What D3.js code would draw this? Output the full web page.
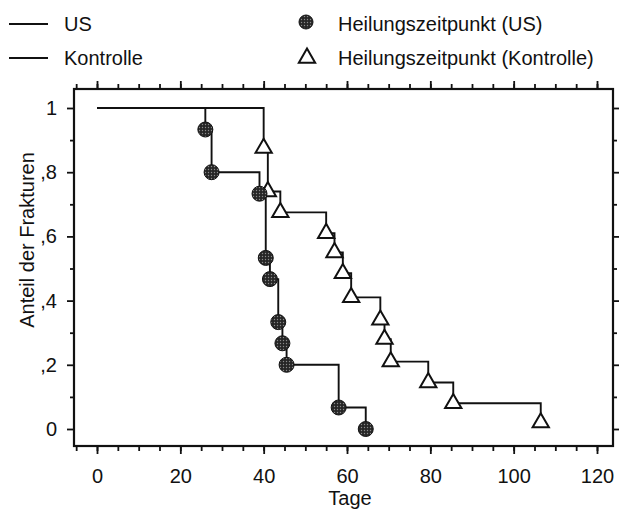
<!DOCTYPE html>
<html lang="de">
  <head>
    <meta charset="UTF-8" />
    <title>Heilungszeitpunkt US vs. Kontrolle</title>
    <script src="https://d3js.org/d3.v7.min.js"></script>
    <style>
      body {
        margin: 0;
        background-color: #fff;
        font-family: "Liberation Sans", Arial, sans-serif;
      }
      svg {
        display: block;
      }
      .step-line {
        fill: none;
        stroke: #111;
        stroke-width: 1.9px;
      }
      .axis text {
        font-family: "Liberation Sans", Arial, sans-serif;
        font-size: 20px;
        fill: #111;
      }
      .axis line {
        stroke: #111;
        stroke-width: 1.8px;
      }
      .label {
        font-size: 20px;
        fill: #111;
      }
    </style>
  </head>
  <body>
    <svg id="chart"></svg>

    <script>
      const width = 619;
      const height = 511;

      // Heilungszeitpunkte (Tage) und Anteil der noch nicht geheilten Frakturen
      const usDays = [26, 27.5, 39, 40.5, 41.5, 43.5, 44.5, 45.5, 58, 64.5];
      const usShare = [0.933, 0.8, 0.733, 0.533, 0.467, 0.333, 0.267, 0.2, 0.067, 0.0];

      const kontrolleDays = [40, 41, 44, 55, 57, 59, 61, 68, 69, 70.5, 79.5, 85.5, 106.5];
      const kontrolleShare = [0.875, 0.74, 0.675, 0.61, 0.55, 0.485, 0.41, 0.34, 0.28, 0.21, 0.145, 0.08, 0.02];

      const xMajorTicks = [0, 20, 40, 60, 80, 100, 120];
      const xMinorTicks = d3.range(-5, 125, 5);
      const yMajorTicks = [0, 0.2, 0.4, 0.6, 0.8, 1];
      const yTickLabels = ["0", ",2", ",4", ",6", ",8", "1"];
      const yMinorTicks = [0.1, 0.3, 0.5, 0.7, 0.9];

      const legendLines = ["US", "Kontrolle"];
      const legendMarkers = ["Heilungszeitpunkt (US)", "Heilungszeitpunkt (Kontrolle)"];

      // plot box
      const box = { left: 74, right: 613, top: 89, bottom: 446 };

      const xScale = d3.scaleLinear().domain([0, 120]).range([97, 597]);
      const yScale = d3.scaleLinear().domain([0, 1]).range([429, 108]);

      const svg = d3.select("#chart").attr("width", width).attr("height", height);

      // stipple pattern for the filled circles
      const defs = svg.append("defs");
      const pat = defs
        .append("pattern")
        .attr("id", "stipple")
        .attr("width", 3)
        .attr("height", 3)
        .attr("patternUnits", "userSpaceOnUse");
      pat.append("rect").attr("width", 3).attr("height", 3).attr("fill", "#262626");
      pat.append("circle").attr("cx", 1.5).attr("cy", 1.5).attr("r", 0.7).attr("fill", "#8a8a8a");

      // frame
      svg
        .append("rect")
        .attr("x", box.left)
        .attr("y", box.top)
        .attr("width", box.right - box.left)
        .attr("height", box.bottom - box.top)
        .attr("fill", "none")
        .attr("stroke", "#111")
        .attr("stroke-width", 2.2);

      const noDomain = (g) => g.select(".domain").remove();

      // bottom axis
      svg
        .append("g")
        .attr("class", "axis")
        .attr("transform", `translate(0,${box.bottom})`)
        .call(d3.axisBottom(xScale).tickValues(xMinorTicks).tickSize(5).tickFormat(""))
        .call(noDomain);
      svg
        .append("g")
        .attr("class", "axis")
        .attr("transform", `translate(0,${box.bottom})`)
        .call(d3.axisBottom(xScale).tickValues(xMajorTicks).tickSize(8).tickPadding(15))
        .call(noDomain);

      // top axis (ticks only)
      svg
        .append("g")
        .attr("class", "axis")
        .attr("transform", `translate(0,${box.top})`)
        .call(d3.axisTop(xScale).tickValues(xMinorTicks).tickSize(5).tickFormat(""))
        .call(noDomain);
      svg
        .append("g")
        .attr("class", "axis")
        .attr("transform", `translate(0,${box.top})`)
        .call(d3.axisTop(xScale).tickValues(xMajorTicks).tickSize(8).tickFormat(""))
        .call(noDomain);

      // left axis
      svg
        .append("g")
        .attr("class", "axis")
        .attr("transform", `translate(${box.left},0)`)
        .call(d3.axisLeft(yScale).tickValues(yMinorTicks).tickSize(4).tickFormat(""))
        .call(noDomain);
      svg
        .append("g")
        .attr("class", "axis")
        .attr("transform", `translate(${box.left},0)`)
        .call(
          d3
            .axisLeft(yScale)
            .tickValues(yMajorTicks)
            .tickSize(7)
            .tickPadding(10)
            .tickFormat((d, i) => yTickLabels[i])
        )
        .call(noDomain);

      // right axis (ticks only)
      svg
        .append("g")
        .attr("class", "axis")
        .attr("transform", `translate(${box.right},0)`)
        .call(d3.axisRight(yScale).tickValues(yMinorTicks).tickSize(4).tickFormat(""))
        .call(noDomain);
      svg
        .append("g")
        .attr("class", "axis")
        .attr("transform", `translate(${box.right},0)`)
        .call(d3.axisRight(yScale).tickValues(yMajorTicks).tickSize(6).tickFormat(""))
        .call(noDomain);

      // axis titles
      svg
        .append("text")
        .attr("class", "label")
        .attr("x", 350)
        .attr("y", 505)
        .attr("text-anchor", "middle")
        .text("Tage");

      svg
        .append("text")
        .attr("class", "label")
        .attr("transform", "translate(27,240) rotate(-90)")
        .attr("text-anchor", "middle")
        .attr("dy", "0.35em")
        .text("Anteil der Frakturen");

      // step curves
      const line = d3
        .line()
        .x((d) => xScale(d[0]))
        .y((d) => yScale(d[1]))
        .curve(d3.curveStepAfter);

      const usPoints = [[0, 1]].concat(usDays.map((d, i) => [d, usShare[i]]));
      const kontrollePoints = [[0, 1]].concat(kontrolleDays.map((d, i) => [d, kontrolleShare[i]]));

      svg.append("path").datum(kontrollePoints).attr("class", "step-line").attr("d", line);
      svg.append("path").datum(usPoints).attr("class", "step-line").attr("d", line);

      const triangle = d3.symbol().type(d3.symbolTriangle).size(115);

      // markers
      svg
        .selectAll(".tri")
        .data(kontrolleDays)
        .enter()
        .append("path")
        .attr("class", "tri")
        .attr("d", triangle)
        .attr("transform", (d, i) => `translate(${xScale(d)},${yScale(kontrolleShare[i])})`)
        .attr("fill", "#fff")
        .attr("stroke", "#111")
        .attr("stroke-width", 2);

      svg
        .selectAll(".dot")
        .data(usDays)
        .enter()
        .append("circle")
        .attr("class", "dot")
        .attr("cx", (d) => xScale(d))
        .attr("cy", (d, i) => yScale(usShare[i]))
        .attr("r", 7.5)
        .attr("fill", "url(#stipple)")
        .attr("stroke", "#111")
        .attr("stroke-width", 1);

      // legend
      const legendRows = [24, 58];

      legendLines.forEach((name, i) => {
        svg
          .append("line")
          .attr("x1", 9)
          .attr("x2", 48)
          .attr("y1", legendRows[i])
          .attr("y2", legendRows[i])
          .attr("stroke", "#111")
          .attr("stroke-width", 2);
        svg
          .append("text")
          .attr("class", "label")
          .attr("x", 64)
          .attr("y", legendRows[i])
          .attr("dy", "0.35em")
          .text(name);
      });

      svg
        .append("circle")
        .attr("cx", 306)
        .attr("cy", legendRows[0] - 2)
        .attr("r", 7)
        .attr("fill", "url(#stipple)")
        .attr("stroke", "#111")
        .attr("stroke-width", 1);

      svg
        .append("path")
        .attr("d", triangle)
        .attr("transform", `translate(307,${legendRows[1]})`)
        .attr("fill", "#fff")
        .attr("stroke", "#111")
        .attr("stroke-width", 2);

      legendMarkers.forEach((name, i) => {
        svg
          .append("text")
          .attr("class", "label")
          .attr("x", 338)
          .attr("y", legendRows[i])
          .attr("dy", "0.35em")
          .text(name);
      });
    </script>
  </body>
</html>
